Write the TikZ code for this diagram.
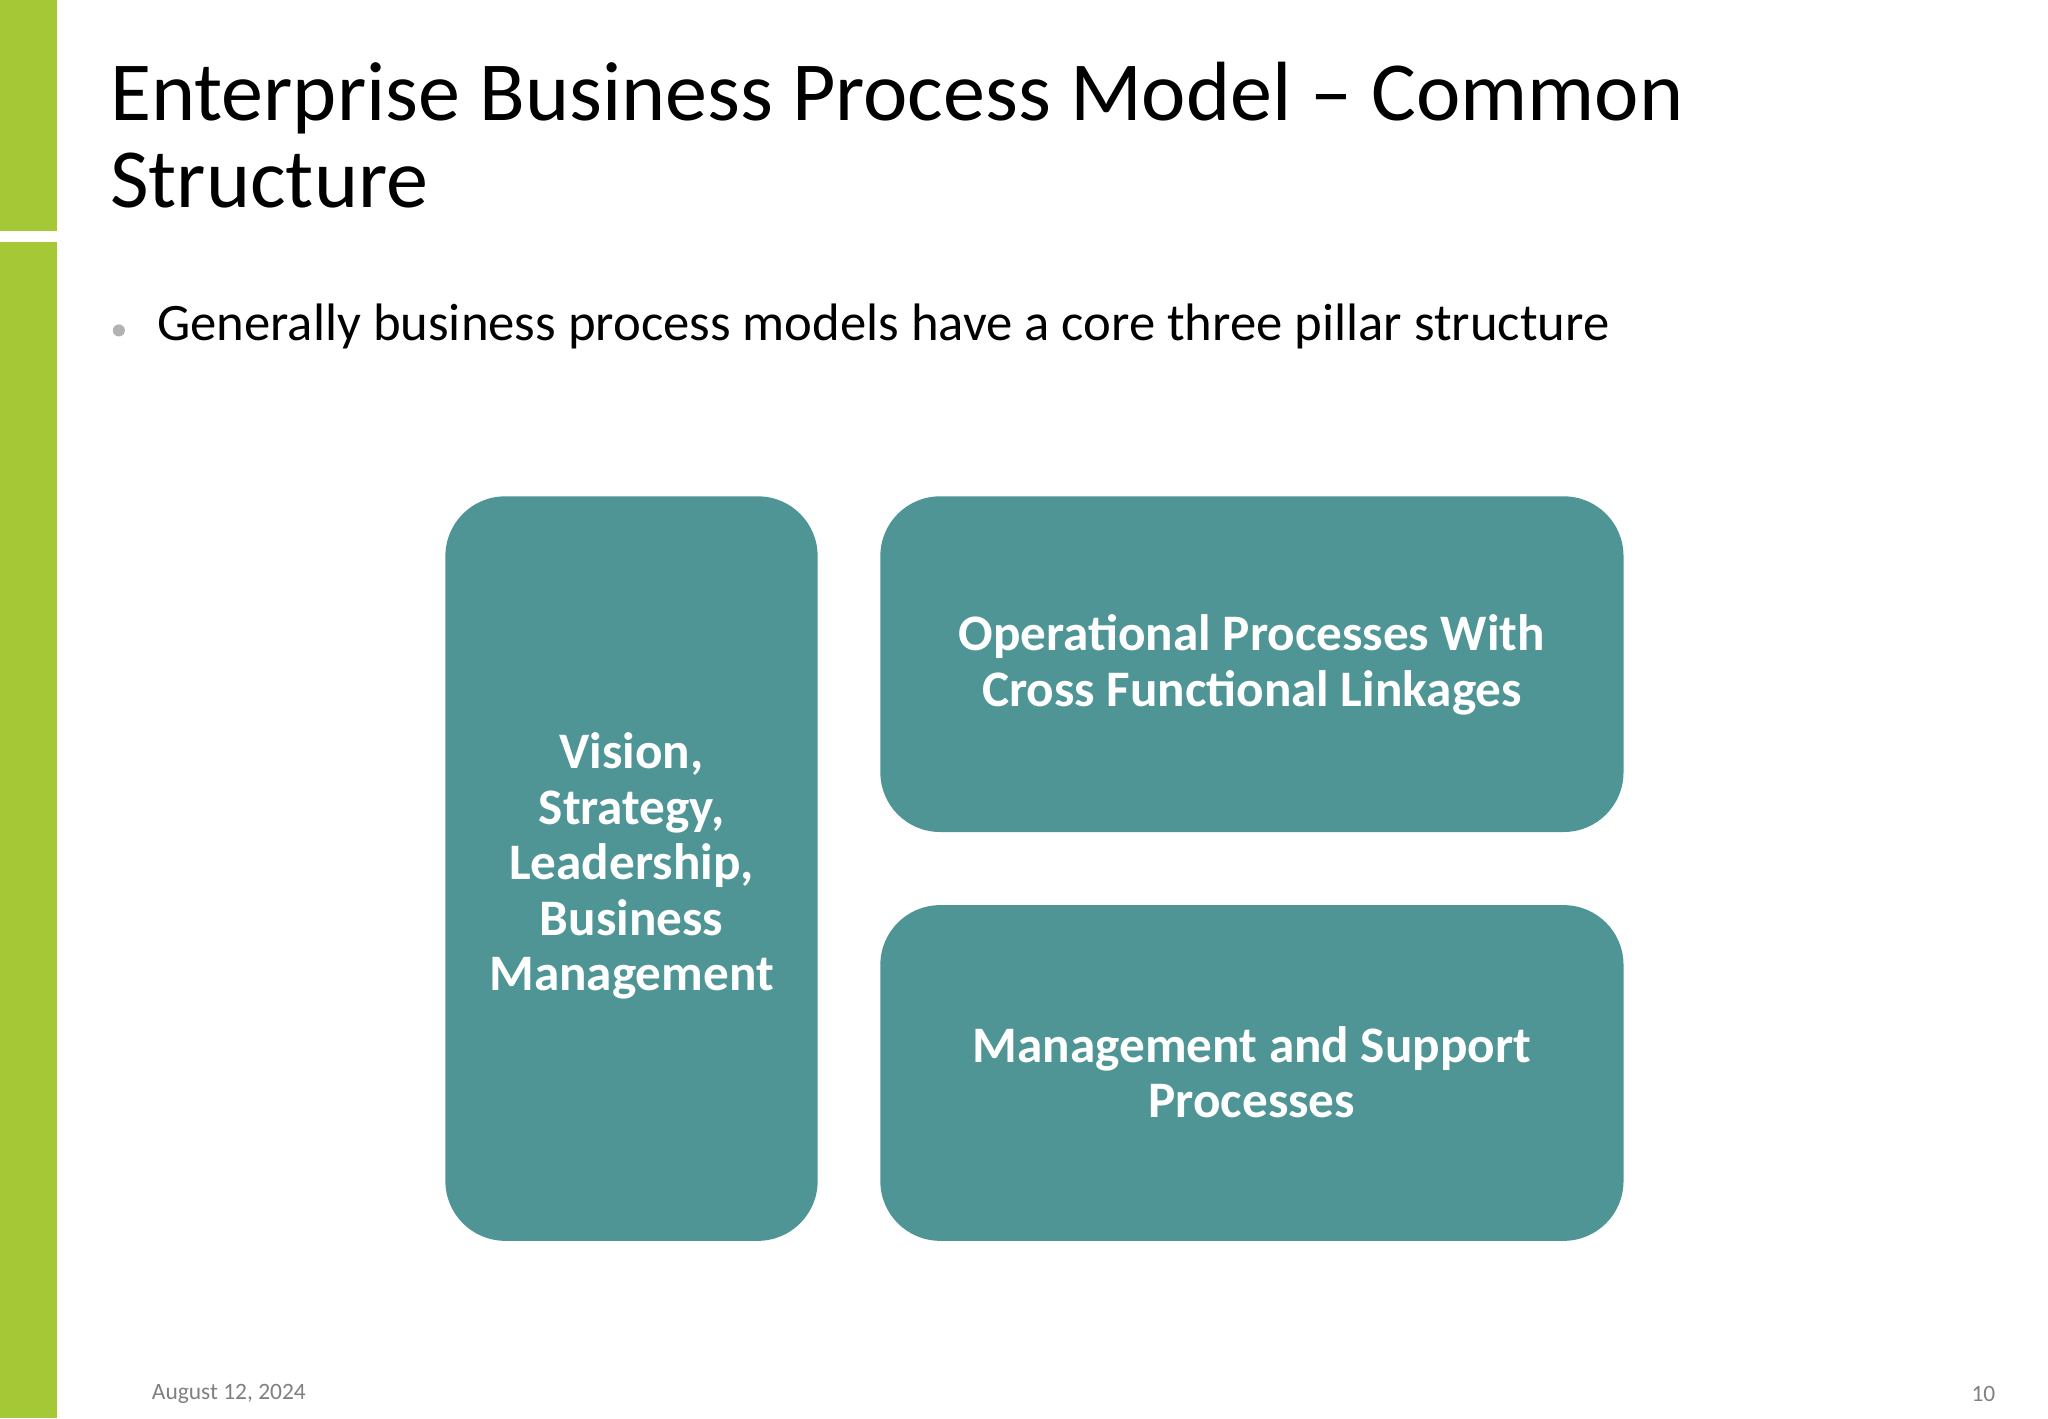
\documentclass[tikz,border=0pt]{standalone}
\usepackage{fontspec}
\setmainfont{Carlito}
\begin{document}
\begin{tikzpicture}[x=0.6122pt,y=-0.6122pt,
  box/.style={fill=teal1,rounded corners=28pt,draw=none},
  lbl/.style={text=white,font=\fontsize{24}{26}\selectfont\bfseries,align=center}]
\definecolor{teal1}{HTML}{4F9595}
\definecolor{grn}{HTML}{A5C936}
\useasboundingbox (0,0) rectangle (1568,1086);
\fill[grn] (0,0) rectangle (44,177);
\fill[grn] (0,185) rectangle (44,1086);
\node[anchor=north west,align=left,inner sep=0,font=\fontsize{39.4}{41}\selectfont] (t) at (84,47) {Enterprise Business Process Model – Common\\Structure};
\node[anchor=west,inner sep=0,font=\fontsize{24.7}{26}\selectfont] (b) at (120,250) {Generally business process models have a core three pillar structure};
\node[circle,fill=gray!60,inner sep=2pt] (dot) at (91,253) {};
\draw[box] (341,380) rectangle (626,950);
\draw[box] (674,380) rectangle (1243,637);
\draw[box] (674,693) rectangle (1243,950);
\node[lbl] (v) at (483.5,663) {Vision,\\Strategy,\\Leadership,\\Business\\Management};
\node[lbl] (o) at (958.5,509) {Operational Processes With\\Cross Functional Linkages};
\node[lbl] (m) at (958.5,821) {Management and Support\\Processes};
\node[anchor=west,inner sep=0,text=gray,font=\fontsize{11}{11}\selectfont] (d) at (116,1067) {August 12, 2024};
\node[anchor=east,inner sep=0,text=gray,font=\fontsize{11}{11}\selectfont] (n) at (1528,1067) {10};
\end{tikzpicture}
\end{document}
